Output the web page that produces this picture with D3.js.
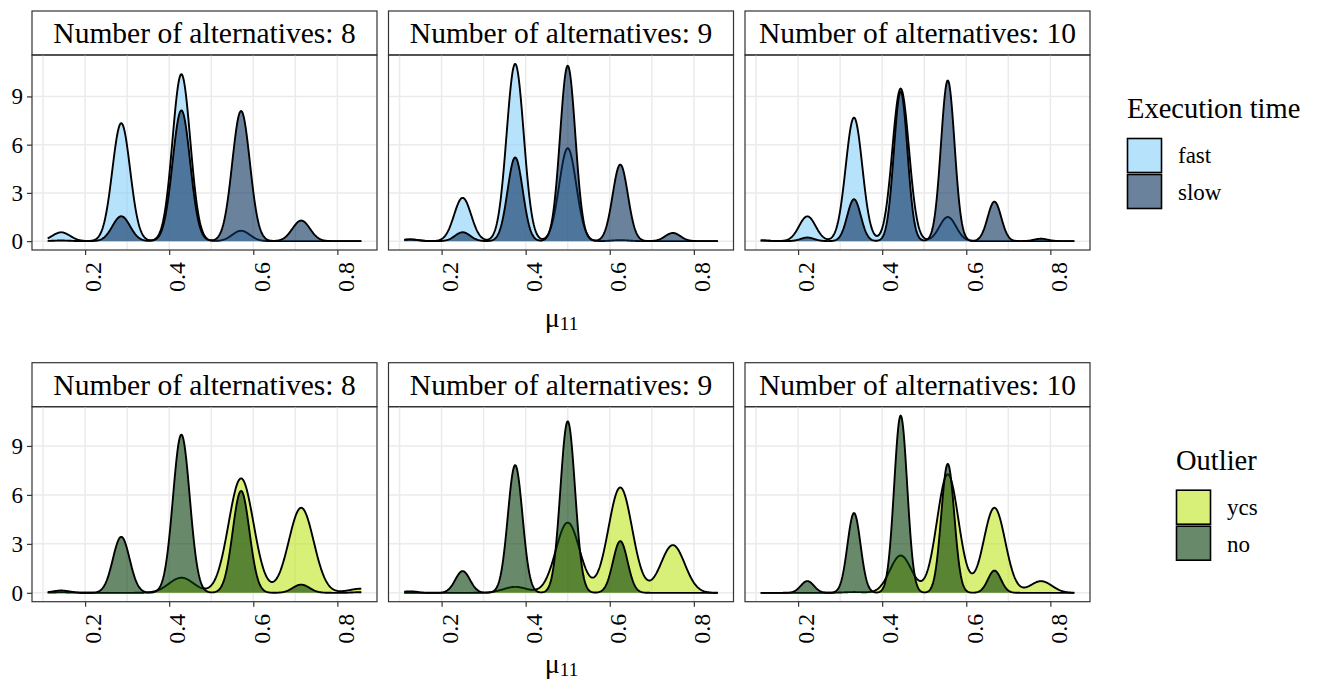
<!DOCTYPE html>
<html>
<head>
<meta charset="utf-8">
<script src="https://cdn.jsdelivr.net/npm/d3@7.9.0/dist/d3.min.js"></script>
<style>
  body { margin: 0; background: #fff; }
  svg text { font-family: "Liberation Serif", "Times New Roman", serif; fill: #000; }
</style>
</head>
<body>
<svg id="chart" width="1318" height="683"></svg>
<script>
// number of alternatives, one facet each
const alternatives = [8, 9, 10];

// discrete values of mu11 that occur for each number of alternatives
const levels8 = [0.143, 0.286, 0.429, 0.571, 0.714, 0.857];
const levels9 = [0.125, 0.25, 0.375, 0.5, 0.625, 0.75];
const levels10 = [0.111, 0.222, 0.333, 0.444, 0.556, 0.667, 0.778];

// share of runs (%) at each value, execution time groups
const fast8 = [2.9, 38.8, 54.9, 3.4, 0, 0];
const fast9 = [0.5, 13.7, 56.1, 29.4, 0.3, 0];
const fast10 = [0.2, 7.6, 37.9, 46.8, 7.4, 0, 0];
const slow8 = [0.2, 8.1, 42.6, 42.4, 6.7, 0];
const slow9 = [0.5, 2.5, 23.6, 49.5, 21.6, 2.3];
const slow10 = [0.2, 0.9, 10.5, 37.5, 40.3, 9.9, 0.6];

// share of runs (%) at each value, outlier groups
const yes8 = [0.2, 0, 6.9, 52.2, 38.8, 1.9];
const yes9 = [0, 0, 2.6, 30.6, 45.9, 20.8];
const yes10 = [0, 0, 0.3, 14.7, 46.7, 33.5, 4.6];
const no8 = [0.7, 17.1, 48.3, 31.1, 2.5, 0.2];
const no9 = [0.4, 5.8, 34.1, 45.8, 13.8, 0];
const no10 = [0, 2.8, 19.0, 42.2, 30.7, 5.3, 0];

// kernel bandwidths of each density (per facet)
const fastBw = [0.0211, 0.0203, 0.0197];
const slowBw = [0.0209, 0.0181, 0.0161];
const yesBw = [0.0297, 0.0284, 0.0257];
const noBw = [0.0199, 0.0174, 0.0155];

const xTicks = [0.2, 0.4, 0.6, 0.8];
const xGrid = [0.1, 0.2, 0.3, 0.4, 0.5, 0.6, 0.7, 0.8];
const yTicks = [0, 3, 6, 9];

const levels = [levels8, levels9, levels10];
const SERIF = '"Liberation Serif", "Times New Roman", serif';

const rows = [
  {
    top: 11, title: 'Execution time', legendX: 1127, axisY: 327,
    groups: [
      { label: 'fast', color: '#87cefa', shares: [fast8, fast9, fast10], bw: fastBw },
      { label: 'slow', color: '#082f5c', shares: [slow8, slow9, slow10], bw: slowBw }
    ]
  },
  {
    top: 362.7, title: 'Outlier', legendX: 1176, axisY: 673,
    groups: [
      { label: 'ycs', color: '#bee61e', shares: [yes8, yes9, yes10], bw: yesBw },
      { label: 'no', color: '#033c07', shares: [no8, no9, no10], bw: noBw }
    ]
  }
];

const svg = d3.select('#chart');
const panelW = 345, stripH = 44, panelH = 195;
const panelX = [32, 388.5, 745];
const alpha = 0.6;

// data range shared by all facets (as in ggplot)
const lo = d3.min(levels.flat());
const hi = d3.max(levels.flat());
const grid = d3.range(512).map(i => lo + (hi - lo) * i / 511);

function kde(lv, shares, bw) {
  const total = d3.sum(shares);
  return grid.map(x => [x, d3.sum(lv, (c, i) => {
    const u = (x - c) / bw;
    return (shares[i] / total) * Math.exp(-0.5 * u * u) / (bw * Math.sqrt(2 * Math.PI));
  })]);
}

const x = d3.scaleLinear()
  .domain([lo - 0.05 * (hi - lo), hi + 0.05 * (hi - lo)])
  .range([0, panelW]);

rows.forEach(row => {
  // densities for every facet and group
  const dens = alternatives.map((n, i) => row.groups.map(g => kde(levels[i], g.shares[i], g.bw[i])));
  const ymax = d3.max(dens.flat(2), d => d[1]);
  const y = d3.scaleLinear().domain([-0.05 * ymax, 1.05 * ymax]).range([panelH, 0]);

  alternatives.forEach((n, i) => {
    const g = svg.append('g').attr('transform', `translate(${panelX[i]},${row.top})`);

    // strip
    g.append('rect').attr('width', panelW).attr('height', stripH)
      .attr('fill', '#fff').attr('stroke', '#333').attr('stroke-width', 1.2);
    g.append('text').attr('x', panelW / 2).attr('y', 32.3)
      .attr('text-anchor', 'middle').attr('font-size', 29.5)
      .text('Number of alternatives: ' + n);

    const p = g.append('g').attr('transform', `translate(0,${stripH})`);

    // grid
    p.selectAll('.vg').data(xGrid).join('line')
      .attr('x1', d => x(d)).attr('x2', d => x(d))
      .attr('y1', 0).attr('y2', panelH)
      .attr('stroke', '#ebebeb').attr('stroke-width', 1.5);
    p.selectAll('.hg').data(yTicks).join('line')
      .attr('x1', 0).attr('x2', panelW)
      .attr('y1', d => y(d)).attr('y2', d => y(d))
      .attr('stroke', '#ebebeb').attr('stroke-width', 1.5);

    // densities
    const area = d3.area().x(d => x(d[0])).y0(y(0)).y1(d => y(d[1]));
    const line = d3.line().x(d => x(d[0])).y(d => y(d[1]));
    row.groups.forEach((grp, j) => {
      p.append('path').attr('d', area(dens[i][j]))
        .attr('fill', grp.color).attr('fill-opacity', alpha);
      p.append('path').attr('d', line(dens[i][j]))
        .attr('fill', 'none').attr('stroke', '#000').attr('stroke-width', 1.9)
        .attr('stroke-linejoin', 'round');
    });

    // border
    p.append('rect').attr('width', panelW).attr('height', panelH)
      .attr('fill', 'none').attr('stroke', '#333').attr('stroke-width', 1.2);

    // x axis
    const xa = p.append('g').attr('transform', `translate(0,${panelH})`)
      .call(d3.axisBottom(x).tickValues(xTicks).tickSize(5).tickFormat(d3.format('.1f')));
    xa.attr('font-family', null).attr('font-size', null);
    xa.select('.domain').remove();
    xa.selectAll('.tick line').attr('stroke', '#333').attr('stroke-width', 1.2);
    xa.selectAll('.tick text')
      .style('font-family', SERIF).style('font-size', '24px')
      .attr('text-anchor', 'end')
      .attr('transform', 'translate(-1,12) rotate(-90)')
      .attr('x', 0).attr('y', 0).attr('dy', '0.7em');

    // y axis on the first facet only
    if (i === 0) {
      const ya = p.append('g').call(d3.axisLeft(y).tickValues(yTicks).tickSize(5).tickPadding(4));
      ya.attr('font-family', null).attr('font-size', null);
      ya.select('.domain').remove();
      ya.selectAll('.tick line').attr('stroke', '#333').attr('stroke-width', 1.2);
      ya.selectAll('.tick text').style('font-family', SERIF).style('font-size', '23px');
    }
  });

  // axis title mu_11
  const t = svg.append('text').attr('x', 561.5).attr('y', row.axisY)
    .attr('text-anchor', 'middle').style('font-family', SERIF);
  t.append('tspan').attr('font-size', 28).text('μ');
  t.append('tspan').attr('font-size', 19).attr('dy', 3).text('11');

  // legend
  const lg = svg.append('g').attr('transform', `translate(${row.legendX},${row.top})`);
  lg.append('text').attr('x', 0).attr('y', 107).attr('font-size', 28.5).text(row.title);
  row.groups.forEach((grp, j) => {
    lg.append('rect').attr('x', 0.5).attr('y', 127.5 + j * 36)
      .attr('width', 34).attr('height', 34)
      .attr('fill', '#fff').attr('stroke', 'none');
    lg.append('rect').attr('x', 0.5).attr('y', 127.5 + j * 36)
      .attr('width', 34).attr('height', 34)
      .attr('fill', grp.color).attr('fill-opacity', alpha)
      .attr('stroke', '#000').attr('stroke-width', 1.6);
    lg.append('text').attr('x', 51).attr('y', 152 + j * 37)
      .attr('font-size', 23).text(grp.label);
  });
});
</script>
</body>
</html>
